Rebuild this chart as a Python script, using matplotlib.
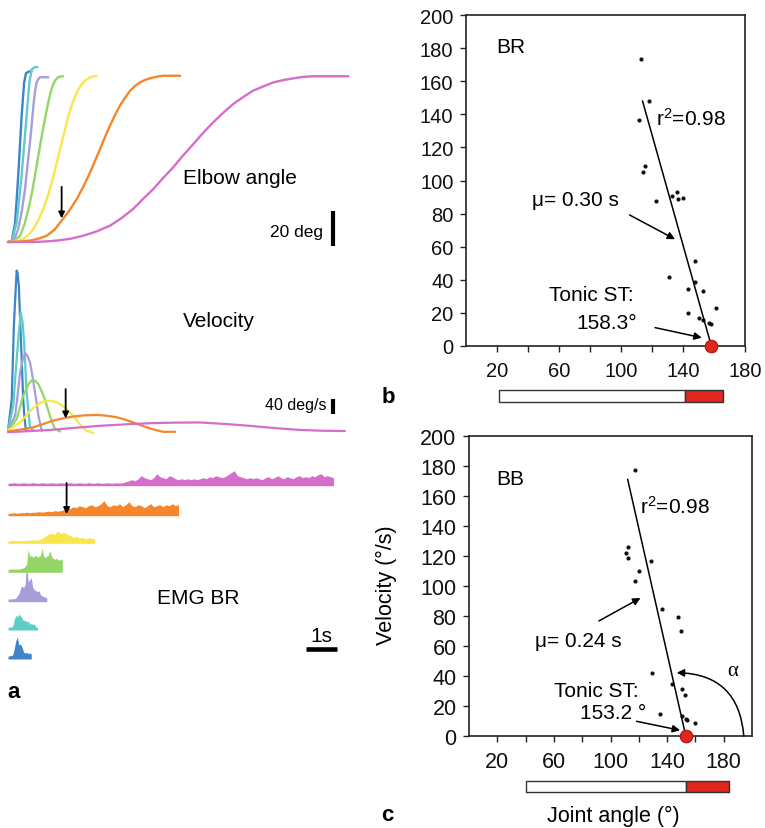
import numpy as np
import matplotlib
matplotlib.use('Agg')
import matplotlib.pyplot as plt
import matplotlib.transforms as mtransforms
from matplotlib.patches import Rectangle

plt.rcParams['font.family'] = ['Liberation Sans', 'DejaVu Sans']
plt.rcParams['mathtext.fontset'] = 'custom'
plt.rcParams['mathtext.rm'] = 'Liberation Sans'
plt.rcParams['mathtext.it'] = 'Liberation Sans:italic'

W, H = 765, 829

# trace colours, fastest to slowest movement
trace_colors = ['#3d85c8', '#5ecdc8', '#a99ddc', '#93d665', '#f8e64a', '#f5862c', '#d56ecb']

# elbow angle (s, deg)
angle_blue = [(0.0, 0), (0.12, 0.5), (0.23, 11), (0.33, 38), (0.44, 72), (0.52, 91), (0.58, 96.5), (0.69, 97.5),
              (0.76, 97.5)]
angle_cyan = [(0.0, 0), (0.12, 0.5), (0.28, 11), (0.44, 38), (0.58, 68), (0.69, 91), (0.76, 98.5), (0.87, 100),
              (0.95, 100)]
angle_lav = [(0.0, 0), (0.12, 0.5), (0.22, 2.5), (0.33, 7.4), (0.44, 17), (0.55, 30.3), (0.63, 44), (0.71, 57),
             (0.77, 68), (0.82, 78), (0.87, 86), (0.92, 91), (0.97, 93), (1.03, 94.1), (1.15, 94.2), (1.3, 94.1)]
angle_green = [(0.0, 0), (0.12, 0.3), (0.25, 1.5), (0.39, 3.6), (0.53, 10), (0.66, 18.9), (0.77, 28), (0.87, 37.9),
               (0.98, 49.5), (1.09, 60.8), (1.2, 71), (1.3, 79.8), (1.38, 86), (1.46, 90.3), (1.54, 92.8),
               (1.62, 94.1), (1.7, 94.6), (1.78, 94.7)]
angle_yellow = [(0.0, 0), (0.12, 0.2), (0.3, 0.7), (0.49, 1.7), (0.66, 4), (0.82, 7.4), (0.98, 12.5), (1.14, 18.9),
                (1.28, 26), (1.41, 34.1), (1.55, 43.5), (1.68, 53.1), (1.82, 63), (1.95, 72.2), (2.08, 79.5),
                (2.22, 85.5), (2.35, 89.5), (2.48, 92.2), (2.62, 93.8), (2.75, 94.7), (2.86, 94.7)]
angle_orange = [(0.0, 0), (0.35, 0.2), (0.71, 0.8), (1.0, 2), (1.25, 3.6), (1.5, 7), (1.73, 12.2), (1.98, 18),
                (2.22, 24.6), (2.44, 32), (2.65, 39.8), (2.81, 46.5), (2.97, 53.1), (3.13, 60), (3.29, 66.5),
                (3.45, 72.5), (3.61, 77.9), (3.78, 82.5), (3.94, 86.5), (4.1, 89.2), (4.26, 91.2), (4.42, 92.6),
                (4.58, 93.5), (4.8, 94.5), (5.01, 95), (5.55, 95)]
angle_magenta = [(0.0, 0), (0.82, 0), (1.2, 0.3), (1.57, 0.8), (2.0, 1.8), (2.43, 3.6), (2.85, 6), (3.29, 9.3),
                 (3.65, 13.5), (4.04, 18.9), (4.35, 24.5), (4.69, 30.3), (5.0, 36.5), (5.33, 42.7), (5.65, 49.5),
                 (5.98, 56), (6.3, 62.5), (6.62, 68.4), (6.95, 74), (7.27, 78.9), (7.6, 83), (7.91, 86.5),
                 (8.25, 89), (8.56, 91.2), (8.9, 92.6), (9.2, 93.5), (9.5, 94.3), (9.85, 94.7), (10.3, 94.7),
                 (10.98, 94.7)]

# velocity (s, deg/s)
vel_blue = [(0.0, 0), (0.12, 84), (0.19, 280), (0.24, 365), (0.28, 427), (0.31, 420), (0.35, 387), (0.38, 320),
            (0.42, 235), (0.46, 150), (0.49, 84), (0.53, 35), (0.58, 0), (0.71, -1)]
vel_cyan = [(0.0, 0), (0.17, 67), (0.22, 125), (0.28, 191), (0.35, 262), (0.41, 316), (0.47, 290), (0.52, 235),
            (0.56, 170), (0.6, 102), (0.66, 50), (0.71, 9), (0.82, 0)]
vel_lav = [(0.0, 0), (0.23, 40), (0.31, 95), (0.39, 156), (0.47, 187), (0.55, 207), (0.63, 199), (0.71, 182),
           (0.79, 146), (0.87, 102), (0.93, 70), (0.98, 40), (1.04, 18), (1.09, 0)]
vel_green = [(0.0, 0), (0.28, 31), (0.38, 60), (0.49, 93), (0.66, 124), (0.73, 131), (0.8, 136), (0.89, 132),
             (0.98, 124), (1.08, 106), (1.19, 84), (1.27, 62), (1.35, 40), (1.44, 20), (1.52, 4), (1.68, -2)]
vel_yellow = [(0.0, 0), (0.39, 22), (0.55, 37), (0.71, 53), (0.87, 64), (1.03, 74), (1.19, 78), (1.35, 80),
              (1.52, 77), (1.68, 71), (1.84, 61), (2.0, 49), (2.14, 36), (2.27, 22), (2.4, 10), (2.54, 0),
              (2.75, -6)]
vel_orange = [(0.0, -2), (0.4, 3), (0.82, 9), (1.14, 18), (1.46, 27), (1.78, 33), (2.11, 38), (2.48, 41),
              (2.86, 42), (3.18, 40), (3.5, 36), (3.77, 30), (4.04, 22), (4.31, 14), (4.58, 6), (4.8, 1),
              (5.01, -3), (5.39, -3)]
vel_magenta = [(0.0, -4), (0.7, -1), (1.35, 2), (2.2, 8), (2.97, 13), (3.8, 17), (4.58, 20), (5.4, 21.5),
               (6.19, 22), (7.0, 18), (7.8, 13), (8.6, 7), (9.42, 2), (10.1, 0), (10.87, -1)]

# rectified EMG BR envelope (a.u.), sampled every emg_step seconds from t=0
emg_step = [0.05, 0.05, 0.05, 0.05, 0.1, 0.1, 0.1]
emg_blue = [3, 3, 3.5, 4, 10, 18, 22, 14, 15, 12, 7, 6, 6.5, 5.5, 6, 5]
emg_cyan = [2.5, 3, 3, 3.5, 10, 15, 13, 16, 14, 12, 9, 10, 8, 9, 6, 6.5, 5.5, 6, 3, 2.5]
emg_lav = [2.5, 3, 2.5, 3, 3, 3.5, 6, 8, 13, 16, 14, 17, 38, 20, 22, 24, 14, 12, 11, 10, 11, 7, 6, 5, 4.5, 4]
emg_green = [3, 3, 3.5, 3, 3.5, 3, 3.5, 3, 3.5, 4, 4.5, 6, 8, 23, 16, 17, 15, 16, 17, 15, 16, 17, 24, 16, 15, 16,
             17, 22, 16, 14, 13, 14, 13, 12, 13, 13]
emg_yellow = [2.5, 2.5, 3, 2.5, 3, 2.5, 3, 3, 3.5, 3, 3.5, 5, 7, 9, 10, 9, 12.5, 10, 11, 9, 8, 6, 7, 5, 6, 4.5,
              5.5, 5, 4]
emg_orange = [2.5, 2.5, 3, 2.5, 3, 3, 3.5, 3, 3.5, 3.5,
              4, 3.5, 4, 4.5, 4, 5, 4.5, 5, 6, 8,
              7, 9, 8, 10, 9, 8, 10, 11, 9, 10,
              12, 15, 10, 9, 11, 10, 12, 9, 11, 14,
              10, 9, 11, 10, 8, 10, 12, 9, 10, 11,
              9, 11, 10, 12, 10, 11]
emg_magenta = [2.5, 2.5, 3, 2.5, 2.5, 3, 2.5, 2.5, 3, 2.5,
               2.5, 3, 2.5, 2.5, 3, 2.5, 2.5, 3, 2.5, 2.5,
               3, 2.5, 2.5, 3, 2.5, 2.5, 3, 2.5, 2.5, 3,
               2.5, 2.5, 3, 2.5, 2.5, 3, 2.5, 3, 4, 5,
               6, 5, 7, 10, 8, 7, 6, 8, 12, 9,
               8, 7, 10, 9, 7, 6, 7, 6, 7, 6,
               7, 6, 7, 8, 7, 9, 8, 10, 9, 8,
               9, 11, 13, 15, 10, 9, 8, 7, 8, 7,
               8, 7, 6, 8, 9, 7, 8, 10, 8, 7,
               9, 8, 7, 9, 10, 8, 9, 8, 10, 9,
               11, 12, 9, 10, 9, 8]

# panel b (BR) and c (BB): joint angle (deg) vs velocity (deg/s)
br_angle = [112.8, 118.2, 111.7, 115.8, 114.5, 122.4, 132.7, 136, 136.8, 139.8, 148, 147.7, 130.8, 143.1, 152.9,
            161.5, 143.1, 150.4, 152.9, 156.8, 158.3]
br_vel = [173.2, 148.2, 136.8, 108.8, 104.9, 87.4, 90.6, 92.8, 89, 89.2, 51.4, 38.5, 41.5, 34.2, 33.2,
          23.2, 19.9, 17.1, 15.5, 13.7, 13.1]
bb_angle = [117.2, 111.3, 112.7, 112.6, 128.3, 119.8, 117.4, 136.1, 148, 149.7, 129.5, 143.2, 150.4, 152.5, 135.2,
            150.8, 153.4, 154.2, 159.8]
bb_vel = [177.6, 122.2, 126, 118.7, 116.7, 109.8, 103.1, 84.9, 79.1, 69.8, 42, 34.4, 31.6, 27.6, 14.9,
          13.3, 11.6, 10.9, 8.9]
br_tonic, br_mu, br_vtop = 158.3, 0.30, 148
bb_tonic, bb_mu, bb_vtop = 153.2, 0.24, 171
br_bar = [21, 141.3, 166]
bb_bar = [40, 153.7, 184]

fig = plt.figure(figsize=(W / 100, H / 100), dpi=100)


def px_axes(x0, y0, x1, y1):
    return fig.add_axes([x0 / W, 1 - y1 / H, (x1 - x0) / W, (y1 - y0) / H])


def tl(x0, x1):
    # pixel columns -> seconds, trace onset at x=8 px, 31 px per second
    return ((x0 - 8) / 31, (x1 - 8) / 31)


# ---------- panel a ----------
ax_ang = px_axes(0, 50, 360, 260)
ax_ang.set_xlim(tl(0, 360))
ax_ang.set_ylim((243 - 260) / 1.75, (243 - 50) / 1.75)
ax_ang.axis('off')
for tr, c in zip([angle_blue, angle_cyan, angle_lav, angle_green, angle_yellow, angle_orange, angle_magenta],
                 trace_colors):
    tr = np.array(tr)
    ax_ang.plot(tr[:, 0], tr[:, 1], color=c, lw=1.7, solid_capstyle='round', solid_joinstyle='round')
ax_ang.annotate('', xy=(1.73, 13.5), xytext=(1.73, 31.5),
                arrowprops=dict(arrowstyle='-|>', color='k', lw=1.3, mutation_scale=9, shrinkA=0, shrinkB=0))
ax_ang.plot([10.47, 10.47], [-2, 18], color='k', lw=3, solid_capstyle='butt')
ax_ang.text(10.16, 6, '20 deg', ha='right', va='center', fontsize=12.5)
ax_ang.text(5.65, 36.6, 'Elbow angle', ha='left', va='center', fontsize=15)

ax_vel = px_axes(0, 262, 360, 440)
ax_vel.set_xlim(tl(0, 360))
ax_vel.set_ylim((431.7 - 440) / 0.375, (431.7 - 262) / 0.375)
ax_vel.axis('off')
for tr, c in zip([vel_blue, vel_cyan, vel_lav, vel_green, vel_yellow, vel_orange, vel_magenta], trace_colors):
    tr = np.array(tr)
    ax_vel.plot(tr[:, 0], tr[:, 1], color=c, lw=1.6, solid_capstyle='round', solid_joinstyle='round')
ax_vel.annotate('', xy=(1.86, 33), xytext=(1.86, 111),
                arrowprops=dict(arrowstyle='-|>', color='k', lw=1.3, mutation_scale=9, shrinkA=0, shrinkB=0))
ax_vel.plot([10.48, 10.48], [44.5, 84.5], color='k', lw=3, solid_capstyle='butt')
ax_vel.text(10.26, 69, '40 deg/s', ha='right', va='center', fontsize=11.5)
ax_vel.text(5.65, 293, 'Velocity', ha='left', va='center', fontsize=15)

ax_emg = px_axes(0, 450, 360, 680)
ax_emg.set_xlim(tl(0, 360))
ax_emg.set_ylim(0, 230)
ax_emg.axis('off')
emg_rows = [20, 49, 77.3, 106.7, 135.7, 163.3, 193.3]
for vals, step, base, c in zip([emg_blue, emg_cyan, emg_lav, emg_green, emg_yellow, emg_orange, emg_magenta],
                               emg_step, emg_rows, trace_colors):
    vals = np.array(vals, dtype=float)
    t = np.arange(len(vals)) * step
    ax_emg.fill_between(t, base, base + vals, color=c, lw=0)
ax_emg.annotate('', xy=(1.89, 165), xytext=(1.89, 196),
                arrowprops=dict(arrowstyle='-|>', color='k', lw=1.3, mutation_scale=9, shrinkA=0, shrinkB=0))
ax_emg.plot([9.61, 10.61], [30, 30], color='k', lw=3.3, solid_capstyle='butt')
ax_emg.text(10.11, 34, '1s', ha='center', va='bottom', fontsize=15)
ax_emg.text(4.81, 81.7, 'EMG BR', ha='left', va='center', fontsize=15)


# ---------- panels b and c ----------
def phase_panel(ax, xlim, angle, vel, tonic, mu, vtop, bar, bar_y, label, fs):
    ax.set_xlim(*xlim)
    ax.set_ylim(0, 200)
    for s in ax.spines.values():
        s.set_linewidth(1.2)
        s.set_color('#222222')
    ax.set_xticks([20, 60, 100, 140, 180])
    ax.set_xticks([40, 80, 120, 160], minor=True)
    ax.set_yticks(np.arange(0, 201, 20))
    ax.tick_params(which='both', direction='out', length=4, width=1, colors='#222222', labelsize=fs,
                   labelcolor='#111111')
    ax.tick_params(axis='x', which='major', pad=7)
    ax.tick_params(axis='y', pad=5)
    ax.plot(angle, vel, 'o', color='#111111', ms=3, mew=0, clip_on=False)
    xf = np.array([tonic - mu * vtop, tonic])
    ax.plot(xf, (tonic - xf) / mu, color='k', lw=1.1)
    ax.plot([tonic], [0], 'o', ms=9, color='#e0271e', mec='#b01010', mew=0.8, clip_on=False, zorder=5)
    ax.text(xlim[0] + 19.5, 181 if label == 'BR' else 171.6, label, ha='left', va='center', fontsize=15)
    trans = mtransforms.blended_transform_factory(ax.transData, ax.transAxes)
    ax.add_patch(Rectangle((bar[0], bar_y[0]), bar[1] - bar[0], bar_y[1] - bar_y[0], transform=trans,
                           facecolor='white', edgecolor='#333333', lw=1, clip_on=False))
    ax.add_patch(Rectangle((bar[1], bar_y[0]), bar[2] - bar[1], bar_y[1] - bar_y[0], transform=trans,
                           facecolor='#e0281e', edgecolor='#333333', lw=1, clip_on=False))


arrow_kw = dict(arrowstyle='-|>', color='k', lw=1.1, mutation_scale=11, shrinkA=0, shrinkB=0)

ax_b = px_axes(466, 16, 745, 347)
phase_panel(ax_b, (0, 180), br_angle, br_vel, br_tonic, br_mu, br_vtop, br_bar, (-0.169, -0.133), 'BR', 14.5)
ax_b.text(122.7, 138, 'r$^2$=0.98', ha='left', va='center', fontsize=15)
ax_b.text(42.5, 88.6, 'μ= 0.30 s', ha='left', va='center', fontsize=15)
ax_b.annotate('', xy=(134.9, 64.5), xytext=(105.5, 79.2), arrowprops=arrow_kw)
ax_b.text(53.3, 31.2, 'Tonic ST:', ha='left', va='center', fontsize=15)
ax_b.text(70.9, 14.1, '158.3°', ha='left', va='center', fontsize=15)
ax_b.annotate('', xy=(152.1, 5.0), xytext=(122, 11.1), arrowprops=arrow_kw)

ax_c = px_axes(469, 437, 752, 737)
phase_panel(ax_c, (0, 200), bb_angle, bb_vel, bb_tonic, bb_mu, bb_vtop, bb_bar, (-0.186, -0.149), 'BB', 15.5)
ax_c.text(120.7, 153.3, 'r$^2$=0.98', ha='left', va='center', fontsize=15)
ax_c.text(46.5, 63.8, 'μ= 0.24 s', ha='left', va='center', fontsize=15)
ax_c.annotate('', xy=(121.2, 92), xytext=(91.8, 76.7), arrowprops=arrow_kw)
ax_c.text(60.3, 30.4, 'Tonic ST:', ha='left', va='center', fontsize=15)
ax_c.text(78.5, 15.6, '153.2 °', ha='left', va='center', fontsize=15)
ax_c.annotate('', xy=(149.2, 3.8), xytext=(118.4, 9.8), arrowprops=arrow_kw)
ax_c.text(186.6, 43.8, 'α', ha='center', va='center', fontsize=15, family=['Liberation Serif', 'DejaVu Serif'])
ax_c.annotate('', xy=(146.8, 42.2), xytext=(194.2, 0), annotation_clip=False,
              arrowprops=dict(arrowstyle='-|>', color='k', lw=1.1, mutation_scale=11, shrinkA=0, shrinkB=0,
                              connectionstyle='arc3,rad=0.45'))

fig.text(386.5 / W, 1 - 585 / H, 'Velocity (°/s)', rotation=90, ha='center', va='center', fontsize=15.5)
fig.text(613 / W, 1 - 816.7 / H, 'Joint angle (°)', ha='center', va='center', fontsize=15.5)

fig.text(7 / W, 1 - 692 / H, 'a', ha='left', va='center', fontsize=16, fontweight='bold')
fig.text(381.5 / W, 1 - 397.5 / H, 'b', ha='left', va='center', fontsize=16, fontweight='bold')
fig.text(381.5 / W, 1 - 816 / H, 'c', ha='left', va='center', fontsize=16, fontweight='bold')

fig.savefig('out.png', dpi=100)
